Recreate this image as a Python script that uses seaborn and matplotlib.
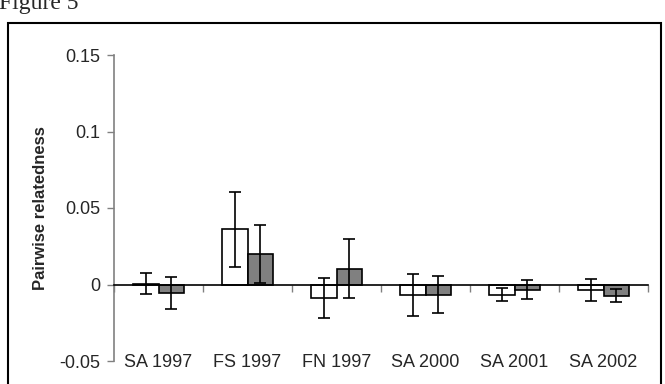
import matplotlib
matplotlib.use('Agg')
import matplotlib.pyplot as plt
import matplotlib.patches as patches
import numpy as np
import pandas as pd
import seaborn as sns

# %%
groups = ['SA 1997', 'FS 1997', 'FN 1997', 'SA 2000', 'SA 2001', 'SA 2002']
white_vals = [0.0005, 0.036, -0.009, -0.0067, -0.0066, -0.0035]
white_err = [0.007, 0.0245, 0.013, 0.0137, 0.0045, 0.0073]
gray_vals = [-0.0055, 0.0197, 0.0104, -0.0066, -0.0033, -0.0074]
gray_err = [0.0102, 0.019, 0.0195, 0.0119, 0.0064, 0.0042]
yticks = [-0.05, 0, 0.05, 0.1, 0.15]
ytick_labels = ['-0.05', '0', '0.05', '0.1', '0.15']

df = pd.DataFrame({
    'group': groups * 2,
    'series': ['open'] * len(groups) + ['filled'] * len(groups),
    'value': white_vals + gray_vals,
    'err': white_err + gray_err,
})

# %%
sns.set_theme(style='white')
plt.rcParams['font.family'] = ['Liberation Sans', 'DejaVu Sans']

fig = plt.figure(figsize=(6.65, 3.84), dpi=100)
ax = fig.add_axes([114 / 665, 23 / 384, 534 / 665, 306 / 384])

sns.barplot(data=df, x='group', y='value', hue='series', order=groups,
            palette=['white', '#808080'], edgecolor='black', linewidth=1.2,
            width=0.575, errorbar=None, legend=False, ax=ax)

for cont, errs in zip(ax.containers, [white_err, gray_err]):
    xs = [b.get_x() + b.get_width() / 2 for b in cont]
    ys = [b.get_y() + b.get_height() for b in cont]
    ax.errorbar(xs, ys, yerr=errs, fmt='none', ecolor='black',
                elinewidth=1.2, capsize=4, capthick=1.2, zorder=5)

ax.set_xlim(-0.5, len(groups) - 0.5)
ax.set_ylim(-0.05, 0.15)
ax.set_yticks(yticks, ytick_labels)
ax.tick_params(axis='y', direction='out', length=5, width=1, color='#808080',
               labelsize=13, pad=5, left=True)

# zero line carries the category boundary ticks
ax.spines['bottom'].set_position(('data', 0))
ax.spines['bottom'].set_color('black')
ax.spines['bottom'].set_linewidth(1.2)
ax.set_xticks([])
ax.set_xticks(np.arange(len(groups) + 1) - 0.5, minor=True)
ax.tick_params(axis='x', which='minor', direction='out', length=5, width=1,
               color='#808080', bottom=True)
ax.spines['left'].set_color('#808080')
ax.spines['left'].set_linewidth(1.2)
ax.spines['top'].set_visible(False)
ax.spines['right'].set_visible(False)
ax.set_xlabel('')
ax.set_ylabel('Pairwise relatedness', fontsize=12, fontweight='bold', labelpad=8)

# category labels sit at the bottom of the plot area
sec = ax.secondary_xaxis('bottom')
sec.set_xticks(range(len(groups)), groups)
sec.tick_params(length=0, labelsize=13, pad=-5)
sec.spines['bottom'].set_visible(False)

frame = patches.Rectangle((8 / 665, -0.05), 653 / 665, 1 - 23.5 / 384 + 0.05,
                          transform=fig.transFigure, fill=False,
                          edgecolor='black', linewidth=1.5, clip_on=False)
fig.patches.append(frame)
fig.text(-1 / 665, 1 - 9 / 384, 'Figure 5', family='Liberation Serif',
         fontsize=17, ha='left', va='baseline')

fig.savefig('out.png', dpi=100)
